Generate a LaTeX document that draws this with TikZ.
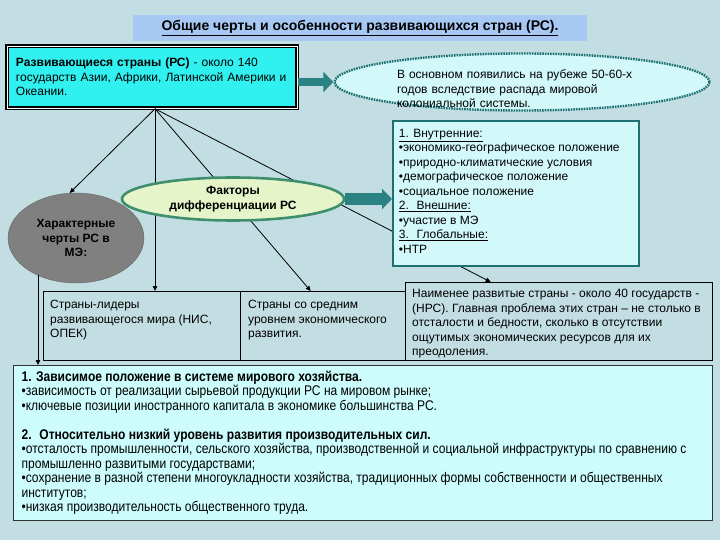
\documentclass[tikz,border=0pt]{standalone}
\usepackage{fontspec}
\setmainfont{Liberation Sans}
\newfontfamily\narrowfont[FakeStretch=0.86]{Liberation Sans}
\usetikzlibrary{arrows.meta,shapes.geometric}

\definecolor{bgblue}{HTML}{C3DEE3}
\definecolor{titleblue}{HTML}{A6C8F2}
\definecolor{cyanfill}{HTML}{30F0F0}
\definecolor{palecyan}{HTML}{D2F8FA}
\definecolor{lowcyan}{HTML}{CCFCFC}
\definecolor{darkteal}{HTML}{1E7070}
\definecolor{arrowteal}{HTML}{2A8282}
\definecolor{greyfill}{HTML}{808080}
\definecolor{palegreen}{HTML}{E6F5C9}
\definecolor{greenrim}{HTML}{3F8F6F}

\tikzset{
  plainbox/.style = {rectangle, draw=black, thin, inner sep=0pt, align=left},
  fan/.style = {draw=black, thick, -{Triangle[length=5pt,width=4.5pt]}},
  blockarrow/.style = {draw=arrowteal, -{Triangle[length=10pt,width=20pt]}}
}

\begin{document}
\begin{tikzpicture}[x=1pt,y=-1pt]
  \useasboundingbox (0,0) rectangle (720,540);
  \fill[bgblue] (0,0) rectangle (720,540);

  \begin{scope}[every node/.style = {font=\fontsize{12}{14.5}\selectfont}]
    \node(title)[rectangle, fill=titleblue, minimum width=454pt, minimum height=26pt,
      font=\fontsize{14}{16}\selectfont]
      at (360,28) {\textbf{\underline{Общие черты и особенности развивающихся стран (РС).}}};
    \node(dev)[rectangle, fill=cyanfill, draw=black, line width=1.6pt, double=white,
      double distance=0.8pt, minimum width=290pt, minimum height=62pt, align=left,
      text width=272pt] at (152,77)
      {\textbf{Развивающиеся страны (РС)} - около 140\\государств Азии, Африки, Латинской Америки и\\Океании.};
    \node(orig)[ellipse, fill=palecyan, draw=darkteal, line width=2.4pt,
      dash pattern=on 1.6pt off 1pt, minimum width=375pt, minimum height=57pt,
      inner sep=0pt,
      label={[yshift=-7pt, align=left, text width=250pt]center:В основном появились на рубеже 50-60-х\\годов вследствие распада мировой\\колониальной системы.}]
      at (522,82) {};
    \node(traits)[ellipse, fill=greyfill, draw=black!60, minimum width=136pt,
      minimum height=90pt, inner sep=0pt, align=center] at (76,238)
      {\textbf{Характерные}\\\textbf{черты РС в}\\\textbf{МЭ:}};
    \node(lead)[plainbox, anchor=north west] at (43,291)
      {\parbox[c][69pt][t]{197pt}{\vspace{9pt}\hspace*{7pt}\parbox[t]{188pt}{\raggedright
        Страны-лидеры\\развивающегося мира (НИС,\\ОПЕК)}}};
    \node(mid)[plainbox, anchor=north west] at (240,291)
      {\parbox[c][69pt][t]{165pt}{\vspace{9pt}\hspace*{8pt}\parbox[t]{156pt}{\raggedright
        Страны со средним\\уровнем экономического\\развития.}}};
    \node(nrs)[plainbox, anchor=north west] at (405,282)
      {\parbox[c][78pt][t]{307pt}{\vspace{7pt}\hspace*{7pt}\parbox[t]{300pt}{\raggedright
        Наименее развитые страны - около 40 государств -\\(НРС). Главная проблема этих стран -- не столько в\\отсталости и бедности, сколько в отсутствии\\ощутимых экономических ресурсов для их\\преодоления.}}};
    \node(bottom)[rectangle, fill=lowcyan, draw=black!80, line width=1.2pt,
      anchor=north west, inner sep=0pt] at (13,365)
      {\parbox[c][155pt][t]{699pt}{\vspace{5pt}\hspace*{8pt}\parbox[t]{690pt}{\narrowfont
        \fontsize{14}{14.5}\selectfont\raggedright
        \textbf{1. Зависимое положение в системе мирового хозяйства.}\\
        •зависимость от реализации сырьевой продукции РС на мировом рынке;\\
        •ключевые позиции иностранного капитала в экономике большинства РС.\\[14.5pt]
        \textbf{2.~ Относительно низкий уровень развития производительных сил.}\\
        •отсталость промышленности, сельского хозяйства, производственной и социальной инфраструктуры по сравнению с\\
        промышленно развитыми государствами;\\
        •сохранение в разной степени многоукладности хозяйства, традиционных формы собственности и общественных\\
        институтов;\\
        •низкая производительность общественного труда.}}};
  \end{scope}

  \coordinate(top) at ([xshift=3pt]dev.south);
  \coordinate(low) at (38,275);

  \begin{scope}[every edge/.style = {fan}]
    \path(top) edge[] (traits.98);
    \path(top) edge[] (top |- lead.north);
    \path(top) edge[] ([xshift=-12pt]mid.north);
    \path(top) edge[] ([xshift=-68pt]nrs.north);
    \path(low) edge[] (low |- bottom.north);
  \end{scope}

  \begin{scope}[every node/.style = {font=\fontsize{12}{14.5}\selectfont}]
    \node(fact)[ellipse, fill=palegreen, draw=greenrim, line width=2.6pt,
      minimum width=222pt, minimum height=43pt, inner sep=0pt, align=center] at (233,199)
      {\textbf{Факторы}\\\textbf{дифференциации РС}};
    \node(flist)[rectangle, fill=palecyan, draw=darkteal, line width=1.8pt,
      anchor=north west, inner sep=0pt] at (392,120)
      {\parbox[c][145pt][t]{246pt}{\vspace{8pt}\hspace*{6pt}\parbox[t]{238pt}{\raggedright
        \underline{1. Внутренние:}\\
        •экономико-географическое положение\\
        •природно-климатические условия\\
        •демографическое положение\\
        •социальное положение\\
        \underline{2.~ Внешние:}\\
        •участие в МЭ\\
        \underline{3.~ Глобальные:}\\
        •НТР}}};
  \end{scope}

  \begin{scope}[every edge/.style = {blockarrow}]
    \path(dev.east |- orig.west) edge[line width=8pt] (orig.west);
    \path(fact.east) edge[line width=12pt] (flist.west |- fact.east);
  \end{scope}
\end{tikzpicture}
\end{document}
